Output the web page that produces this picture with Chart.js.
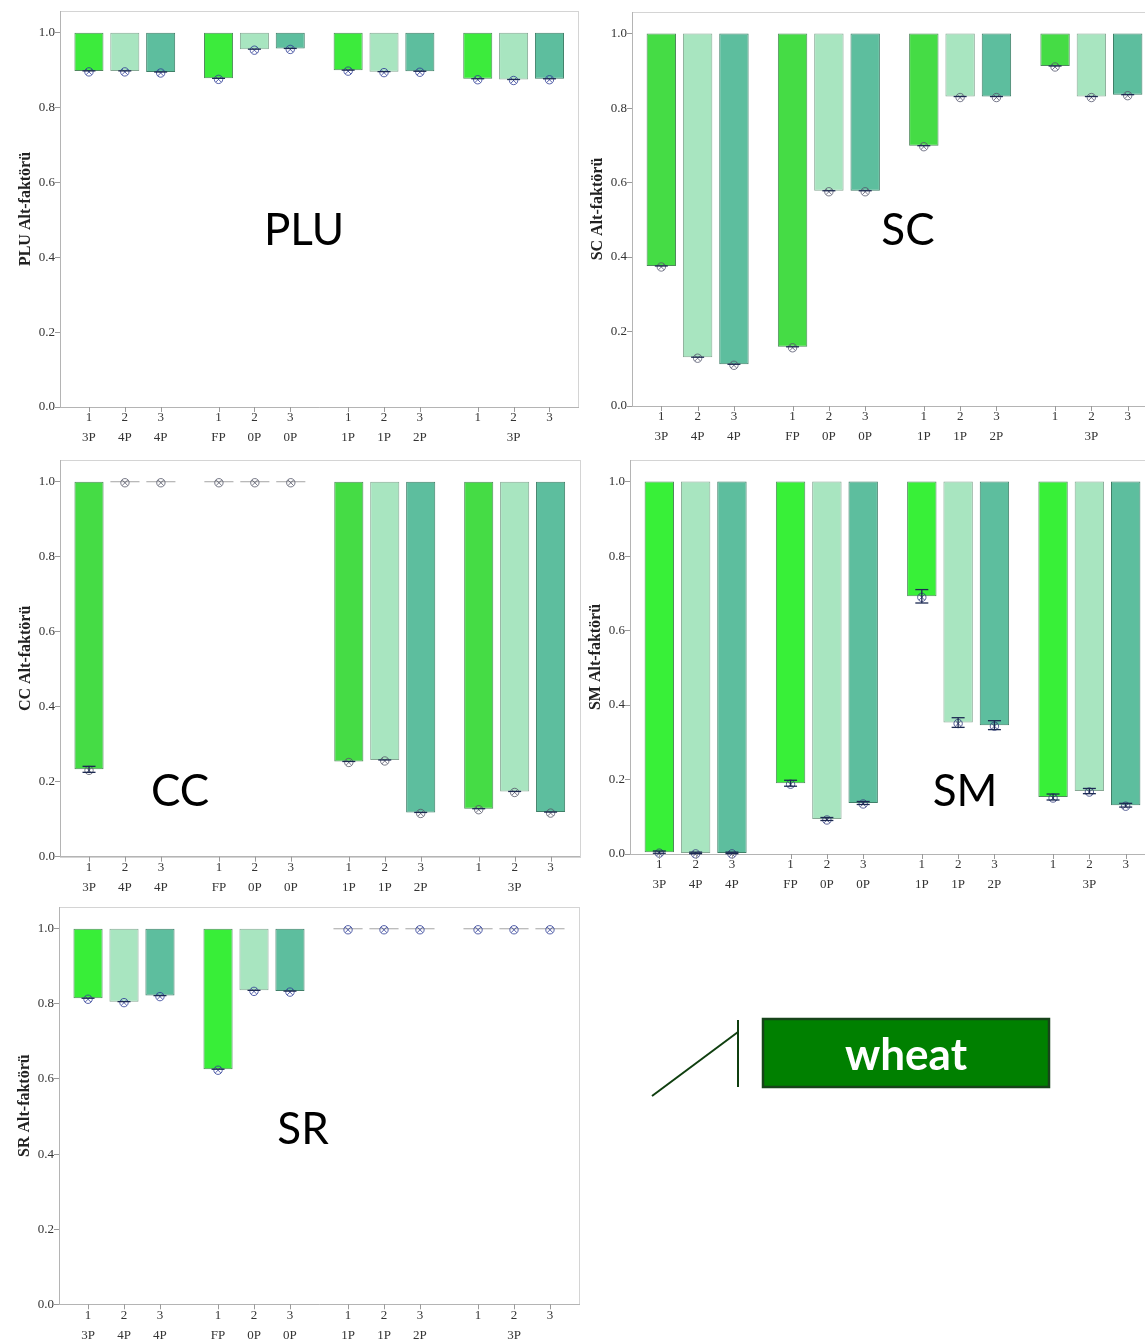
<!DOCTYPE html>
<html>
<head>
<meta charset="utf-8">
<script src="https://cdn.jsdelivr.net/npm/chart.js@4.4.1/dist/chart.umd.min.js"></script>
<style>
  html, body { margin: 0; padding: 0; background: #fff; overflow: hidden; }
  body { width: 1145px; height: 1342px; position: relative; }
  .panel { position: absolute; }
  .panel canvas { display: block; }
  svg.overlay { position: absolute; left: 0; top: 0; pointer-events: none; }
</style>
</head>
<body>
<div class="panel" id="p-plu"><canvas id="c-plu"></canvas></div>
<div class="panel" id="p-sc"><canvas id="c-sc"></canvas></div>
<div class="panel" id="p-cc"><canvas id="c-cc"></canvas></div>
<div class="panel" id="p-sm"><canvas id="c-sm"></canvas></div>
<div class="panel" id="p-sr"><canvas id="c-sr"></canvas></div>

<svg class="overlay" width="1145" height="1342" xmlns="http://www.w3.org/2000/svg">
  <g font-family="Lato, 'Noto Sans', sans-serif" font-size="44" fill="#000" text-anchor="middle">
    <text x="304" y="245">PLU</text>
    <text x="908" y="245">SC</text>
    <text x="180" y="806">CC</text>
    <text x="965" y="806">SM</text>
    <text x="303" y="1144">SR</text>
  </g>
  <line x1="738" y1="1020" x2="738" y2="1087" stroke="#0f3f0f" stroke-width="2"/>
  <line x1="652" y1="1096" x2="738" y2="1032" stroke="#0f3f0f" stroke-width="2"/>
  <rect x="763" y="1019" width="286" height="68" fill="#008000" stroke="#17441a" stroke-width="2.5"/>
  <text x="906" y="1070" font-family="Lato, 'Noto Sans', sans-serif" font-weight="bold" font-size="44" fill="#fff" text-anchor="middle">wheat</text>
</svg>

<script>
// Series (sampling rounds) and the plot codes printed under each bar
const seriesNames = ['1', '2', '3'];
const groupCodes = [
  ['3P', '4P', '4P'],
  ['FP', '0P', '0P'],
  ['1P', '1P', '2P'],
  ['', '3P', '']
];

// Every bar hangs from the same upper value
const barTop = 1.0;

// Sub-factor values, one row per group, one entry per series
const pluValues = [[0.898, 0.898, 0.895], [0.878, 0.956, 0.958], [0.900, 0.896, 0.897], [0.877, 0.875, 0.877]];
const scValues  = [[0.376, 0.131, 0.112], [0.159, 0.578, 0.578], [0.699, 0.831, 0.831], [0.913, 0.831, 0.836]];
const ccValues  = [[0.233, 1.000, 1.000], [1.000, 1.000, 1.000], [0.254, 0.258, 0.118], [0.128, 0.174, 0.119]];
const smValues  = [[0.005, 0.003, 0.003], [0.190, 0.094, 0.137], [0.692, 0.353, 0.346], [0.153, 0.169, 0.131]];
const srValues  = [[0.815, 0.806, 0.822], [0.626, 0.836, 0.834], [1.000, 1.000, 1.000], [1.000, 1.000, 1.000]];

// Standard errors (half-width of the error bar)
const pluErr = [[0, 0, 0], [0, 0, 0], [0, 0, 0], [0, 0, 0]];
const scErr  = [[0, 0, 0], [0, 0, 0], [0, 0, 0], [0, 0, 0]];
const ccErr  = [[0.008, 0, 0], [0, 0, 0], [0, 0, 0], [0, 0, 0]];
const smErr  = [[0.003, 0.002, 0.002], [0.008, 0.004, 0.004], [0.018, 0.013, 0.012], [0.008, 0.007, 0.005]];
const srErr  = [[0, 0, 0], [0, 0, 0], [0, 0, 0], [0, 0, 0]];

// Y-axis ticks
const yTickStep = 0.2;
const yMax = 1.058;

// ---- layout & styling ----
const Y_AXIS_W = 60;
const X_AXIS_H = 44;
const PAD_TOP = 11;
const PAD_RIGHT = 5;
const AXIS_COLOR = '#b4b4b4';
const FRAME_COLOR = '#d4d4d4';
const SERIF = '"Liberation Serif", "Times New Roman", serif';

const panels = [
  { id: 'plu', name: 'PLU', values: pluValues, err: pluErr, left: 0,   top: 0,     plotW: 518.4, plotH: 396,   first: '#3ceb3c', marker: 'rgba(45,60,150,0.8)' },
  { id: 'sc',  name: 'SC',  values: scValues,  err: scErr,  left: 572, top: 1,     plotW: 525,   plotH: 394,   first: '#45dc45', marker: 'rgba(85,88,110,0.8)' },
  { id: 'cc',  name: 'CC',  values: ccValues,  err: ccErr,  left: 0,   top: 449,   plotW: 519.6, plotH: 396.7, first: '#45dc45', marker: 'rgba(85,88,105,0.8)' },
  { id: 'sm',  name: 'SM',  values: smValues,  err: smErr,  left: 570, top: 449,   plotW: 525,   plotH: 394,   first: '#38f038', marker: 'rgba(50,60,125,0.8)' },
  { id: 'sr',  name: 'SR',  values: srValues,  err: srErr,  left: -1,  top: 895.7, plotW: 520,   plotH: 397.3, first: '#38ee38', marker: 'rgba(45,60,150,0.8)' }
];

function seg(ctx, x1, y1, x2, y2) {
  ctx.beginPath(); ctx.moveTo(x1, y1); ctx.lineTo(x2, y2); ctx.stroke();
}

// Frame, mean markers, error bars and two-line bar labels
const panelMarks = {
  id: 'panelMarks',
  beforeDraw(chart) {
    const { ctx, chartArea: a } = chart;
    ctx.save();
    ctx.strokeStyle = FRAME_COLOR;
    ctx.lineWidth = 1;
    ctx.strokeRect(Math.round(a.left) + 0.5, Math.round(a.top) + 0.5, Math.round(a.width), Math.round(a.height));
    ctx.restore();
  },
  afterDatasetsDraw(chart, args, opts) {
    const { ctx } = chart;
    const ys = chart.scales.y;
    ctx.save();
    chart.data.datasets.forEach((ds, d) => {
      chart.getDatasetMeta(d).data.forEach((bar, g) => {
        const v = opts.values[g][d];
        const e = opts.err[g][d];
        const x = bar.x;
        const py = ys.getPixelForValue(v);
        if (v >= barTop) {
          ctx.strokeStyle = '#a4a4a4';
          ctx.lineWidth = 1;
          seg(ctx, x - bar.width / 2, py, x + bar.width / 2, py);
        }
        // mean marker: open circle with a diagonal cross
        ctx.strokeStyle = opts.marker;
        ctx.lineWidth = 1;
        ctx.beginPath(); ctx.arc(x, py + 1, 4.2, 0, Math.PI * 2); ctx.stroke();
        const k = 2.8;
        seg(ctx, x - k, py + 1 - k, x + k, py + 1 + k);
        seg(ctx, x - k, py + 1 + k, x + k, py + 1 - k);
        // error bar
        if (v < barTop) {
          ctx.strokeStyle = '#1d2a52';
          ctx.lineWidth = 1.3;
          const cw = 6.5;
          if (e > 0) {
            const y1 = ys.getPixelForValue(v + e);
            const y2 = ys.getPixelForValue(v - e);
            seg(ctx, x, y1, x, y2);
            seg(ctx, x - cw, y1, x + cw, y1);
            seg(ctx, x - cw, y2, x + cw, y2);
          } else {
            seg(ctx, x - cw, py, x + cw, py);
          }
        }
      });
    });
    ctx.restore();
  },
  afterDraw(chart) {
    const { ctx, chartArea: a } = chart;
    ctx.save();
    ctx.font = '13px ' + SERIF;
    ctx.fillStyle = '#333';
    ctx.textAlign = 'center';
    ctx.textBaseline = 'middle';
    ctx.strokeStyle = '#9a9a9a';
    ctx.lineWidth = 1;
    chart.data.datasets.forEach((ds, d) => {
      chart.getDatasetMeta(d).data.forEach((bar, g) => {
        const tx = Math.round(bar.x) + 0.5;
        seg(ctx, tx, a.bottom, tx, a.bottom + 5);
        ctx.fillText(seriesNames[d], bar.x, a.bottom + 11);
        ctx.fillText(groupCodes[g][d], bar.x, a.bottom + 31);
      });
    });
    ctx.restore();
  }
};

function buildPanel(p) {
  const wrap = document.getElementById('p-' + p.id);
  const canvas = document.getElementById('c-' + p.id);
  const W = Math.ceil(Y_AXIS_W + p.plotW + PAD_RIGHT);
  const H = Math.ceil(PAD_TOP + p.plotH + X_AXIS_H);
  wrap.style.left = p.left + 'px';
  wrap.style.top = p.top + 'px';
  canvas.width = W; canvas.height = H;
  canvas.style.width = W + 'px'; canvas.style.height = H + 'px';
  const padRight = W - Y_AXIS_W - p.plotW;
  const padBottom = H - PAD_TOP - p.plotH - X_AXIS_H;

  const fills = [p.first, '#a8e5c0', '#5dbe9e'];
  const edges = ['#4f8a5c', '#86a894', '#3f7f68'];

  const datasets = seriesNames.map((s, d) => ({
    label: s,
    data: p.values.map(row => [row[d], barTop]),
    backgroundColor: fills[d],
    borderColor: edges[d],
    borderWidth: 1,
    borderSkipped: false,
    categoryPercentage: 0.83,
    barPercentage: 0.81
  }));

  new Chart(canvas, {
    type: 'bar',
    data: { labels: groupCodes.map(c => c.join(' ')), datasets },
    plugins: [panelMarks],
    options: {
      responsive: false,
      animation: false,
      devicePixelRatio: 1,
      layout: { padding: { top: PAD_TOP, right: padRight, left: 0, bottom: padBottom } },
      plugins: {
        legend: { display: false },
        tooltip: { enabled: false },
        panelMarks: { values: p.values, err: p.err, marker: p.marker }
      },
      scales: {
        x: {
          type: 'category',
          offset: true,
          grid: { display: false },
          ticks: { display: false },
          border: { display: true, color: AXIS_COLOR },
          afterFit: s => { s.height = X_AXIS_H; }
        },
        y: {
          min: 0,
          max: yMax,
          ticks: {
            stepSize: yTickStep,
            includeBounds: false,
            padding: 0,
            color: '#333',
            font: { family: SERIF, size: 13 },
            callback: v => Number(v).toFixed(1)
          },
          grid: { display: true, drawOnChartArea: false, drawTicks: true, tickLength: 5, color: '#9a9a9a' },
          border: { display: true, color: AXIS_COLOR },
          title: {
            display: true,
            text: p.name + ' Alt-faktörü',
            color: '#222',
            font: { family: SERIF, size: 16, weight: 'bold' },
            padding: { top: 16, bottom: 0 }
          },
          afterFit: s => { s.width = Y_AXIS_W; }
        }
      }
    }
  });
}

panels.forEach(buildPanel);
</script>
</body>
</html>
